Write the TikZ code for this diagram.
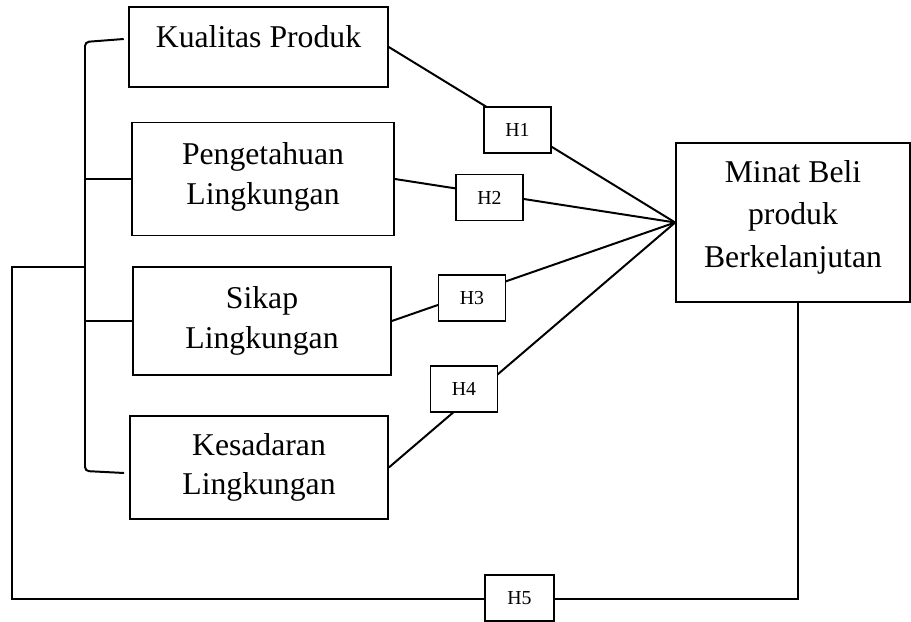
\documentclass[tikz,border=0pt]{standalone}
\usepackage{fontspec}
\setmainfont{Liberation Serif}
\usetikzlibrary{positioning,calc}

\begin{document}
\begin{tikzpicture}[x=0.3785pt,y=-0.3785pt,
    varbox/.style={draw,line width=.6pt,align=center,inner sep=0pt,font=\fontsize{12}{15}\selectfont},
    hbox/.style={draw,fill=white,line width=.6pt,minimum width=25.4pt,minimum height=17.4pt,inner sep=0pt,font=\fontsize{7.5}{9}\selectfont},
    link/.style={line width=.75pt}]
  \useasboundingbox (0,0) rectangle (911,622);
  \node[varbox,minimum width=98pt,minimum height=30.3pt,text height=8.2pt,text depth=8pt] (kp) at (258.5,47) {Kualitas Produk};
  \node[varbox,minimum width=99.2pt,minimum height=42.8pt,text depth=4pt] (pl) at (263,179) {Pengetahuan\\Lingkungan};
  \node[varbox,minimum width=97.7pt,minimum height=40.9pt] (sl) at (262,321) {Sikap\\Lingkungan};
  \node[varbox,minimum width=97.7pt,minimum height=39pt] (ks) at (259,467.5) {Kesadaran\\Lingkungan};
  \node[varbox,minimum width=88.6pt,minimum height=60.2pt,font=\fontsize{12}{16}\selectfont,text depth=6.5pt] (minat) at (793,222.5) {Minat Beli\\produk\\Berkelanjutan};
  \foreach \src in {kp,pl,sl,ks}
    \draw[link] (\src.east) -- (minat.west);
  \coordinate (spine) at (85,267);
  \coordinate (ret) at (798,599);
  \draw[link,rounded corners=1.5pt] ([shift={(-4.5,-8)}]kp.west) -- (85,42) -- (85,471) -- ([shift={(-5,5.5)}]ks.west);
  \draw[link] (pl.west) -- (pl.west -| spine);
  \draw[link] (sl.west) -- (sl.west -| spine);
  \draw[link] (spine) -| (12,599) -- (ret) -- (ret |- minat.south);
  \node[hbox] (h1) at (517.5,130) {H1};
  \node[hbox] (h2) at (489.5,197.5) {H2};
  \node[hbox] (h3) at (472,298) {H3};
  \node[hbox] (h4) at (464,389) {H4};
  \node[hbox,minimum width=26.1pt] (h5) at (519.5,598) {H5};
\end{tikzpicture}
\end{document}
